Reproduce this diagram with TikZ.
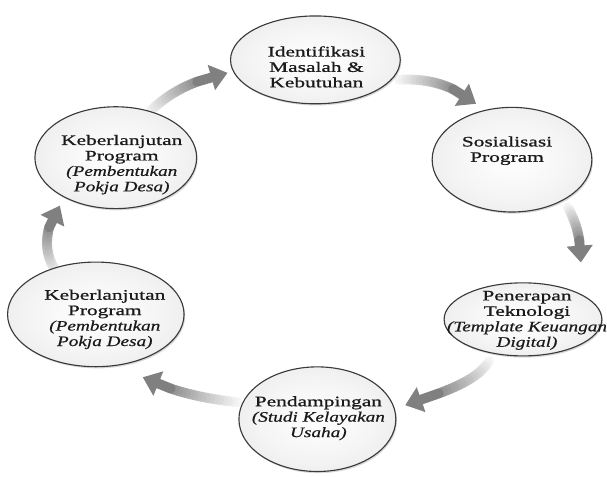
\documentclass[tikz,border=0pt]{standalone}
\usepackage{fontspec}
\setmainfont{Liberation Serif}[UprightFeatures={FakeStretch=1.48, FakeBold=0.9}, ItalicFeatures={FakeStretch=1.33, FakeBold=0.6}]
\usetikzlibrary{arrows.meta, shapes.geometric, shadows}
\definecolor{CText}{HTML}{1A1A1A}
\definecolor{CEdge}{HTML}{3A3A3A}

% Soft light-gray fill for the stage ellipses (white centre, grayer rim)
\pgfdeclareradialshading{stageshade}{\pgfpoint{0bp}{0bp}}{%
    color(0bp)=(white); color(18bp)=(white!96!black);
    color(40bp)=(white!89!black); color(50bp)=(white!80!black)}

% Curved gradient arrow: tail, control, control, tip
\newcommand{\cyclearrow}[4]{%
    \foreach \i in {0,...,24}
        \path (#1) .. controls (#2) and (#3) .. (#4) coordinate[pos=\i/24] (q\i);
    % shaft pieces get darker towards the tip
    \foreach \i [evaluate=\i as \j using int(\i+1), evaluate=\i as \g using int(4+2.5*\i)] in {0,...,15}
        \draw[arrow shaft, draw=black!\g] (q\i) -- (q\j);
    \draw[arrow shaft, draw=black!50, -{Triangle[width=18pt, length=12pt]}] (q16) -- (q24);
}

\begin{document}
\begin{tikzpicture}[
    x=0.025cm, y=-0.025cm,
    % Reusable styles for stages, captions and arrows
    stage/.style={ellipse, draw=CEdge, line width=0.8pt, shade, shading=stageshade,
        drop shadow={shadow xshift=0.8pt, shadow yshift=-1.2pt, opacity=0.3}},
    stage text/.style={font=\fontsize{10.3}{11}\selectfont, align=center, text=CText, inner sep=0pt},
    arrow shaft/.style={line width=7pt, line cap=round}
]

    % Background fixes the page size
    \fill[white] (0,0) rectangle (607,477);

    % -------------------------
    % Arrows between the stages
    % -------------------------
    \coordinate (tail1) at (150,112);  \coordinate (tip1) at (228,73);
    \coordinate (tail2) at (400,80);   \coordinate (tip2) at (477,104);
    \coordinate (tail3) at (569,208);  \coordinate (tip3) at (582,263);
    \coordinate (tail4) at (490,362);  \coordinate (tip4) at (406,406);
    \coordinate (tail5) at (238,403);  \coordinate (tip5) at (143,378);
    \coordinate (tail6) at (57,272);   \coordinate (tip6) at (60,206);

    \cyclearrow{tail1}{170,92}{195,80}{tip1}
    \cyclearrow{tail2}{430,78}{455,86}{tip2}
    \cyclearrow{tail3}{577,222}{582,238}{tip3}
    \cyclearrow{tail4}{476,384}{440,394}{tip4}
    \cyclearrow{tail5}{200,399}{170,391}{tip5}
    \cyclearrow{tail6}{42,255}{45,225}{tip6}

    % -------------------------
    % Stages of the cycle
    % -------------------------
    \node[stage, minimum width=4.25cm, minimum height=2.2cm] (iden) at (316,60) {};
    \node[stage, minimum width=4cm, minimum height=2.62cm] (sosi) at (513,160) {};
    \node[stage, minimum width=3.95cm, minimum height=1.83cm] (pene) at (524,320) {};
    \node[stage, minimum width=3.93cm, minimum height=2.62cm] (pend) at (318,420) {};
    \node[stage, minimum width=4.42cm, minimum height=2.62cm] (kelo) at (96,315) {};
    \node[stage, minimum width=4.05cm, minimum height=2.55cm] (keup) at (116,158) {};

    % Captions
    \node[stage text] (iden-t) at (317,67) {Identifikasi\\Masalah \&\\Kebutuhan};
    \node[stage text] (sosi-t) at (508,151) {Sosialisasi\\Program};
    \node[stage text] (pene-t) at (528,321) {Penerapan\\Teknologi\\\textit{(Template Keuangan}\\\textit{Digital)}};
    \node[stage text] (pend-t) at (319,419) {Pendampingan\\\textit{(Studi Kelayakan}\\\textit{Usaha)}};
    \node[stage text] (kelo-t) at (105,320) {Keberlanjutan\\Program\\\textit{(Pembentukan}\\\textit{Pokja Desa)}};
    \node[stage text] (keup-t) at (122,165) {Keberlanjutan\\Program\\\textit{(Pembentukan}\\\textit{Pokja Desa)}};

\end{tikzpicture}
\end{document}
